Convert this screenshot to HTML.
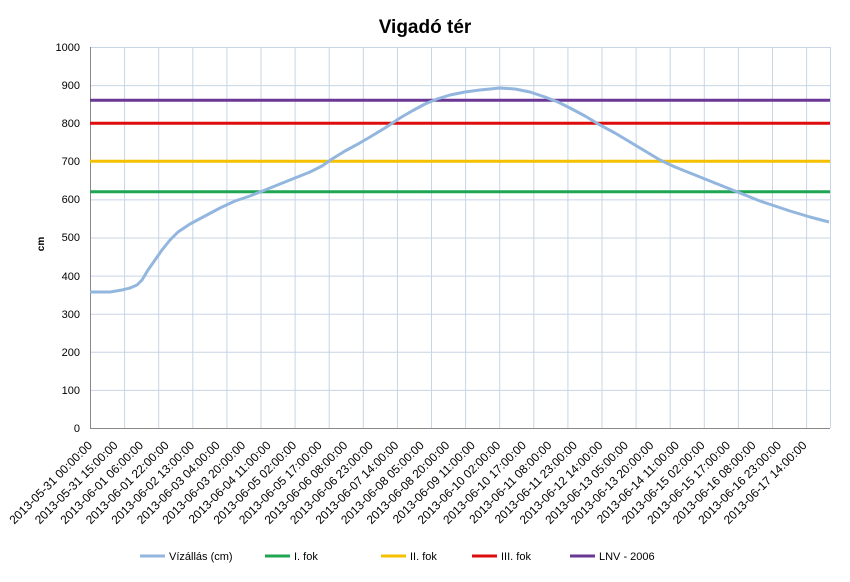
<!DOCTYPE html><html><head><meta charset="utf-8"><style>body{margin:0;background:#fff}svg{display:block;font-family:"Liberation Sans",Arial,sans-serif}</style></head><body>
<svg width="850" height="582" viewBox="0 0 850 582">
<text x="425" y="33" text-anchor="middle" font-size="19" font-weight="bold">Vigadó tér</text>
<text transform="translate(44,244) rotate(-90)" text-anchor="middle" font-size="10" font-weight="bold">cm</text>
<g stroke="#c8d5e5" stroke-width="1">
<line x1="90" x2="830" y1="47.5" y2="47.5"/><line x1="90" x2="830" y1="85.6" y2="85.6"/><line x1="90" x2="830" y1="123.7" y2="123.7"/><line x1="90" x2="830" y1="161.8" y2="161.8"/><line x1="90" x2="830" y1="199.9" y2="199.9"/><line x1="90" x2="830" y1="238" y2="238"/><line x1="90" x2="830" y1="276.1" y2="276.1"/><line x1="90" x2="830" y1="314.2" y2="314.2"/><line x1="90" x2="830" y1="352.3" y2="352.3"/><line x1="90" x2="830" y1="390.4" y2="390.4"/>
</g>
<g id="vl" stroke="#c8d5e5"></g>
<line x1="90.5" y1="47" x2="90.5" y2="428" stroke="#888"/>
<line x1="90" y1="428.5" x2="830" y2="428.5" stroke="#888"/>
<g font-size="11" text-anchor="end">
<text x="80" y="51">1000</text><text x="80" y="89">900</text><text x="80" y="127">800</text><text x="80" y="165">700</text><text x="80" y="203">600</text><text x="80" y="241">500</text><text x="80" y="280">400</text><text x="80" y="318">300</text><text x="80" y="356">200</text><text x="80" y="394">100</text><text x="80" y="432">0</text>
</g>
<g stroke-width="3">
<line x1="90" x2="830" y1="191.8" y2="191.8" stroke="#1fa653"/>
<line x1="90" x2="830" y1="161.3" y2="161.3" stroke="#f5c000"/>
<line x1="90" x2="830" y1="123.2" y2="123.2" stroke="#dd0d0d"/>
<line x1="90" x2="830" y1="100.3" y2="100.3" stroke="#6b3795"/>
</g>
<polyline fill="none" stroke="#93b6df" stroke-width="3" stroke-linejoin="round" points="90,292 110,292 122,290 130,288 137,285 142,280 148,270 155,260 162,250 170,240 178,232 190,224 205,216 220,208 235,201 250,196 265,190 280,184 295,178 310,172 322,166 332,159 345,151 358,144 370,137 385,128 400,118 412,111 425,104 437,99 450,95 465,92 480,90 500,88 515,89 530,92 545,97 558,102 570,108 585,116 600,125 615,133 630,142 645,151 660,160 675,167 690,173 705,179 720,185 740,193 760,201 775,206 790,211 810,217 829,222"/>
<g id="xl" font-size="12" text-anchor="end"></g>
<g font-size="11">
<line x1="140" x2="165" y1="556" y2="556" stroke="#93b6df" stroke-width="3"/><text x="169" y="560">Vízállás (cm)</text>
<line x1="265" x2="290" y1="556" y2="556" stroke="#1fa653" stroke-width="3"/><text x="294" y="560">I. fok</text>
<line x1="381" x2="406" y1="556" y2="556" stroke="#f5c000" stroke-width="3"/><text x="410" y="560">II. fok</text>
<line x1="472" x2="497" y1="556" y2="556" stroke="#dd0d0d" stroke-width="3"/><text x="501" y="560">III. fok</text>
<line x1="570" x2="595" y1="556" y2="556" stroke="#6b3795" stroke-width="3"/><text x="599" y="560">LNV - 2006</text>
</g>
</svg>
<script>
(function(){
var ns="http://www.w3.org/2000/svg",vl=document.getElementById("vl"),xl=document.getElementById("xl");
var n=22,s=34.1;
for(var k=1;k<=n;k++){var x=90+s*k;if(x>830)x=830;var l=document.createElementNS(ns,"line");l.setAttribute("x1",x+.5);l.setAttribute("x2",x+.5);l.setAttribute("y1",47);l.setAttribute("y2",428);vl.appendChild(l);}
var L=["2013-05-31 00:00:00","2013-05-31 15:00:00","2013-06-01 06:00:00","2013-06-01 22:00:00","2013-06-02 13:00:00","2013-06-03 04:00:00","2013-06-03 20:00:00","2013-06-04 11:00:00","2013-06-05 02:00:00","2013-06-05 17:00:00","2013-06-06 08:00:00","2013-06-06 23:00:00","2013-06-07 14:00:00","2013-06-08 05:00:00","2013-06-08 20:00:00","2013-06-09 11:00:00","2013-06-10 02:00:00","2013-06-10 17:00:00","2013-06-11 08:00:00","2013-06-11 23:00:00","2013-06-12 14:00:00","2013-06-13 05:00:00","2013-06-13 20:00:00","2013-06-14 11:00:00","2013-06-15 02:00:00","2013-06-15 17:00:00","2013-06-16 08:00:00","2013-06-16 23:00:00","2013-06-17 14:00:00"];
var s2=(830-90)/L.length;
for(var i=0;i<L.length;i++){var x=90+s2*i+3,y=446;var t=document.createElementNS(ns,"text");t.setAttribute("transform","translate("+x+","+y+") rotate(-45)");t.textContent=L[i];xl.appendChild(t);}
})();
</script>
</body></html>
